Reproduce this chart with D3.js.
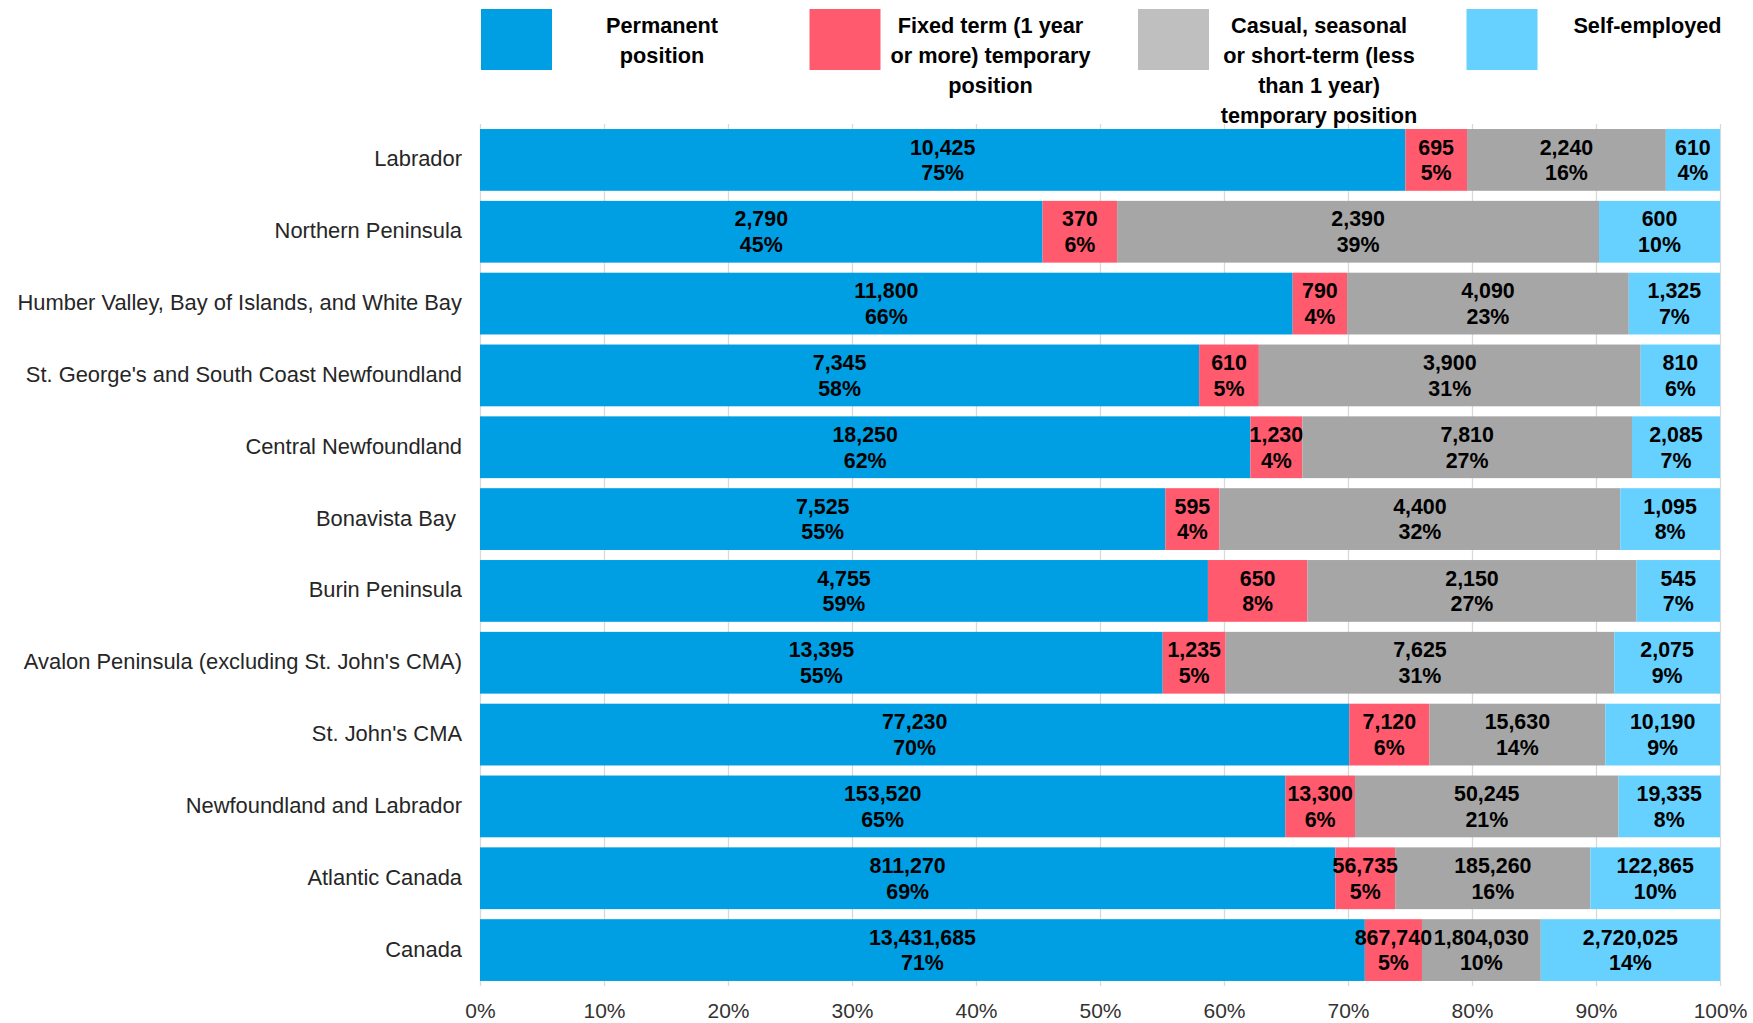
<!DOCTYPE html>
<html>
<head>
<meta charset="utf-8">
<script src="https://cdn.jsdelivr.net/npm/d3@7"></script>
<style>
  html, body { margin: 0; padding: 0; background: #ffffff; }
  svg { display: block; font-family: "Liberation Sans", Arial, sans-serif; }
</style>
</head>
<body>
<svg id="chart" width="1753" height="1023"></svg>
<script>
// ---- Data ----
const categories = [
  "Labrador",
  "Northern Peninsula",
  "Humber Valley, Bay of Islands, and White Bay",
  "St. George's and South Coast Newfoundland",
  "Central Newfoundland",
  "Bonavista Bay ",
  "Burin Peninsula",
  "Avalon Peninsula (excluding St. John's CMA)",
  "St. John's CMA",
  "Newfoundland and Labrador",
  "Atlantic Canada",
  "Canada"
];
const seriesKeys = ["permanent", "fixedTerm", "casual", "selfEmployed"];
const seriesLegendLines = [
  ["Permanent", "position"],
  ["Fixed term (1 year", "or more) temporary", "position"],
  ["Casual, seasonal", "or short-term (less", "than 1 year)", "temporary position"],
  ["Self-employed"]
];
const permanent    = [10425, 2790, 11800, 7345, 18250, 7525, 4755, 13395, 77230, 153520, 811270, 13431685];
const fixedTerm    = [695, 370, 790, 610, 1230, 595, 650, 1235, 7120, 13300, 56735, 867740];
const casual       = [2240, 2390, 4090, 3900, 7810, 4400, 2150, 7625, 15630, 50245, 185260, 1804030];
const selfEmployed = [610, 600, 1325, 810, 2085, 1095, 545, 2075, 10190, 19335, 122865, 2720025];
const permanentPct    = [75, 45, 66, 58, 62, 55, 59, 55, 70, 65, 69, 71];
const fixedTermPct    = [5, 6, 4, 5, 4, 4, 8, 5, 6, 6, 5, 5];
const casualPct       = [16, 39, 23, 31, 27, 32, 27, 31, 14, 21, 16, 10];
const selfEmployedPct = [4, 10, 7, 6, 7, 8, 7, 9, 9, 8, 10, 14];
const tickLabels = ["0%", "10%", "20%", "30%", "40%", "50%", "60%", "70%", "80%", "90%", "100%"];

// ---- Styles ----
const barColors    = ["#009FE3", "#FF5A6E", "#A6A6A6", "#66D1FF"];
const legendColors = ["#009FE3", "#FF5A6E", "#BFBFBF", "#66D1FF"];

const valuesBySeries = [permanent, fixedTerm, casual, selfEmployed];
const pctBySeries = [permanentPct, fixedTermPct, casualPct, selfEmployedPct];

const rows = categories.map((c, i) => {
  const r = { category: c, index: i };
  seriesKeys.forEach((k, j) => { r[k] = valuesBySeries[j][i]; });
  return r;
});

const svg = d3.select("#chart");
const plotLeft = 480, plotRight = 1720, plotTop = 124, plotBottom = 986;

const x = d3.scaleLinear().domain([0, 1]).range([plotLeft, plotRight]);
const y = d3.scaleBand().domain(categories).range([plotTop, plotBottom])
  .paddingInner(0.14).paddingOuter(0.07);

// Gridlines + x tick labels
const xAxis = d3.axisBottom(x)
  .tickValues(d3.range(0, 11).map(d => d / 10))
  .tickFormat((d, i) => tickLabels[i])
  .tickSizeInner(-(plotBottom - plotTop))
  .tickSizeOuter(0)
  .tickPadding(17);
const gx = svg.append("g").attr("transform", `translate(0,${plotBottom})`).call(xAxis);
gx.select(".domain").remove();
gx.selectAll(".tick line").attr("stroke", "#D9D9D9").attr("stroke-width", 1.3);
gx.selectAll(".tick text").attr("fill", "#333").style("font-size", "21px");

// Y axis labels
const yAxis = d3.axisLeft(y).tickSize(0).tickPadding(18);
const gy = svg.append("g").attr("transform", `translate(${plotLeft},0)`).call(yAxis);
gy.select(".domain").remove();
gy.selectAll(".tick text").attr("fill", "#262626").style("font-size", "21.9px")
  .style("white-space", "pre").attr("dy", "0.3em");

// Stack
const stack = d3.stack().keys(seriesKeys).offset(d3.stackOffsetExpand);
const layers = stack(rows);

const gBars = svg.append("g");
layers.forEach((layer, j) => {
  gBars.append("g").attr("fill", barColors[j])
    .selectAll("rect").data(layer).join("rect")
    .attr("x", d => x(d[0]))
    .attr("y", d => y(d.data.category))
    .attr("width", d => x(d[1]) - x(d[0]))
    .attr("height", y.bandwidth());
});

// Labels
const fmt = d3.format(",");
const gLab = svg.append("g").attr("text-anchor", "middle")
  .style("font-size", "21.4px").style("font-weight", "bold").attr("fill", "#000");
layers.forEach((layer, j) => {
  const sel = gLab.append("g").selectAll("text").data(layer).join("text")
    .attr("x", d => (x(d[0]) + x(d[1])) / 2)
    .attr("y", d => y(d.data.category) + y.bandwidth() / 2);
  sel.append("tspan")
    .attr("x", d => (x(d[0]) + x(d[1])) / 2)
    .attr("dy", "-0.25em")
    .text(d => fmt(valuesBySeries[j][d.data.index]));
  sel.append("tspan")
    .attr("x", d => (x(d[0]) + x(d[1])) / 2)
    .attr("dy", "1.2em")
    .text(d => pctBySeries[j][d.data.index] + "%");
});

// Legend
const legendX = d3.scaleLinear().domain([0, 1]).range([481, 809.5]);
const gLeg = svg.append("g");
seriesLegendLines.forEach((lines, j) => {
  const lx = legendX(j);
  gLeg.append("rect").attr("x", lx).attr("y", 9).attr("width", 71).attr("height", 61)
    .attr("fill", legendColors[j]);
  const t = gLeg.append("text").attr("text-anchor", "middle")
    .style("font-size", "21.7px").style("font-weight", "bold").attr("fill", "#000");
  lines.forEach((ln, k) => {
    t.append("tspan").attr("x", lx + 181).attr("y", 33 + k * 30).text(ln);
  });
});
</script>
</body>
</html>
